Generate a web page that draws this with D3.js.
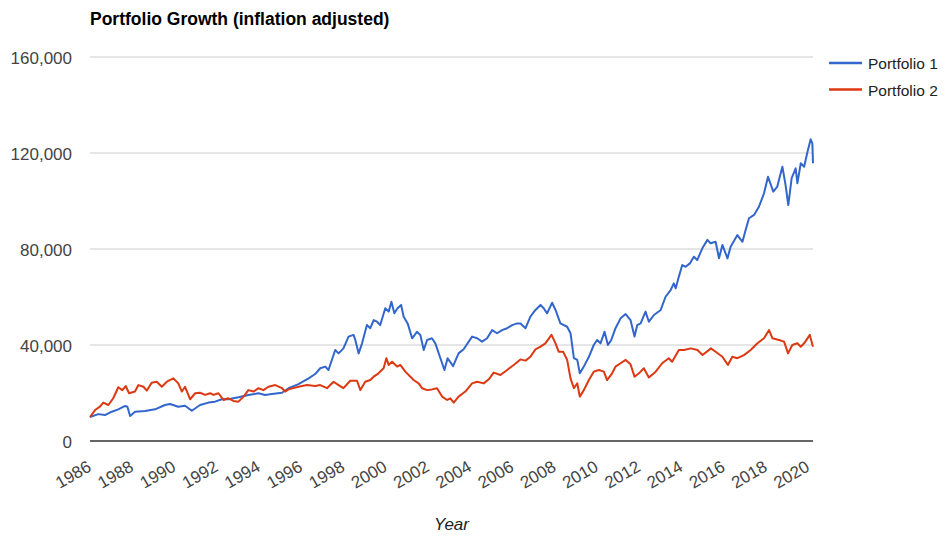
<!DOCTYPE html>
<html><head><meta charset="utf-8">
<script src="https://cdn.jsdelivr.net/npm/d3@7"></script>
<style>body{margin:0;background:#fff} svg{display:block;font-family:Arial,"Liberation Sans",sans-serif}</style>
</head><body><svg id="c" width="952" height="539"></svg>
<script>
const seriesNames = ["Portfolio 1", "Portfolio 2"];
const yTicks = [0, 40000, 80000, 120000, 160000];
const xTicks = [1986,1988,1990,1992,1994,1996,1998,2000,2002,2004,2006,2008,2010,2012,2014,2016,2018,2020];

const p1Years = [1986.00,1986.39,1986.71,1987.03,1987.34,1987.66,1987.77,1987.90,1988.13,1988.61,1989.08,1989.55,1989.79,1990.18,1990.50,1990.82,1991.21,1991.61,1991.92,1992.24,1992.55,1993.03,1993.50,1993.98,1994.29,1994.61,1995.09,1995.40,1995.87,1996.35,1996.66,1996.90,1997.14,1997.29,1997.61,1997.77,1998.00,1998.24,1998.48,1998.56,1998.72,1998.88,1999.11,1999.27,1999.43,1999.59,1999.74,1999.98,2000.14,2000.27,2000.41,2000.56,2000.73,2000.85,2001.04,2001.25,2001.48,2001.64,2001.80,2001.96,2002.19,2002.35,2002.59,2002.78,2002.93,2003.19,2003.45,2003.69,2004.09,2004.33,2004.56,2004.80,2005.04,2005.27,2005.51,2005.75,2005.99,2006.22,2006.38,2006.62,2006.85,2007.09,2007.33,2007.48,2007.64,2007.88,2008.04,2008.27,2008.59,2008.75,2008.91,2009.07,2009.19,2009.38,2009.62,2009.85,2010.01,2010.17,2010.36,2010.52,2010.68,2010.88,2011.12,2011.36,2011.59,2011.78,2011.91,2012.07,2012.30,2012.46,2012.70,2013.02,2013.25,2013.49,2013.64,2013.73,2013.88,2014.04,2014.20,2014.40,2014.59,2014.75,2014.99,2015.23,2015.38,2015.62,2015.78,2015.94,2016.18,2016.33,2016.65,2016.89,2017.04,2017.20,2017.44,2017.67,2017.91,2018.10,2018.35,2018.54,2018.78,2018.93,2019.06,2019.22,2019.41,2019.49,2019.65,2019.81,2019.97,2020.12,2020.20,2020.23];
const p1Values = [10000,11200,10800,12200,13200,14600,14300,10400,12200,12500,13200,15000,15400,14300,14700,12600,15000,16000,16400,17400,17400,18200,19200,19900,19200,19600,20100,22000,23700,26100,27900,30300,31000,29600,37900,36500,38600,43500,44200,42100,36500,40700,48300,47000,50400,49700,48300,55300,53900,58000,53200,55300,56700,51800,49000,42800,45500,44200,37900,42100,42800,40700,34500,29600,34500,31200,36500,38200,43500,42800,41400,42800,46200,44900,46200,47000,48300,49000,49000,47000,51800,54600,56700,55300,53200,57600,54600,49000,47600,44900,34500,33800,28200,31000,35100,40000,42100,40700,45500,40000,42100,47000,51100,52900,50400,43500,48300,49000,53900,49700,52500,54600,60100,62900,65700,63600,68500,73300,72600,74000,76800,75400,80300,83800,82400,83000,76100,81700,76100,80900,85800,83000,87900,92800,94200,97600,103200,110100,103900,106000,114300,106700,98300,109500,113600,107400,115700,114300,120500,125700,124000,115700];

const p2Years = [1986.00,1986.24,1986.47,1986.63,1986.87,1987.10,1987.34,1987.53,1987.69,1987.85,1988.13,1988.29,1988.53,1988.69,1988.92,1989.16,1989.40,1989.64,1989.95,1990.18,1990.35,1990.50,1990.74,1990.98,1991.21,1991.45,1991.69,1991.84,1992.08,1992.32,1992.55,1992.79,1993.03,1993.27,1993.50,1993.74,1993.98,1994.21,1994.45,1994.77,1995.09,1995.24,1995.40,1995.87,1996.27,1996.66,1996.90,1997.22,1997.53,1997.77,1998.00,1998.32,1998.64,1998.80,1999.03,1999.27,1999.43,1999.66,1999.90,2000.03,2000.14,2000.30,2000.54,2000.69,2000.93,2001.17,2001.32,2001.56,2001.72,2001.96,2002.19,2002.43,2002.67,2002.91,2003.06,2003.22,2003.45,2003.77,2004.09,2004.33,2004.64,2004.88,2005.11,2005.43,2005.75,2006.06,2006.38,2006.62,2006.85,2007.09,2007.33,2007.56,2007.85,2008.04,2008.19,2008.40,2008.59,2008.75,2008.91,2009.07,2009.19,2009.38,2009.62,2009.85,2010.09,2010.33,2010.48,2010.72,2010.88,2011.12,2011.36,2011.59,2011.78,2011.99,2012.22,2012.46,2012.78,2013.09,2013.40,2013.56,2013.88,2014.12,2014.45,2014.76,2015.00,2015.40,2015.62,2015.94,2016.20,2016.41,2016.65,2016.96,2017.28,2017.60,2017.91,2018.15,2018.31,2018.62,2018.86,2019.05,2019.25,2019.49,2019.65,2019.81,2020.08,2020.12,2020.23];
const p2Values = [10000,12900,14300,16000,15000,17800,22400,21200,22900,19900,20600,23300,22600,21000,24300,24700,22600,24700,26100,24000,20600,22600,17400,19900,20100,19200,19900,19200,19900,17100,17800,16700,16400,18500,21200,20600,22000,21200,22600,23300,22000,20600,21500,22600,23300,22900,23300,22000,24700,23300,22000,25100,25100,21200,24700,25400,26800,28200,30300,34500,31700,33000,31000,31700,28900,26800,25400,24000,22000,21200,21500,22000,18500,17100,17800,16000,18500,20600,24000,24700,24000,25700,28500,27500,29600,31700,34000,33500,35100,38200,39300,40700,44200,40700,37200,37200,33800,26100,22000,24000,18500,21200,25400,28900,29600,28900,25400,28200,31000,32400,33800,32000,26800,28200,30300,26500,28900,32400,34500,33000,37900,37900,38600,37900,35800,38600,37200,35100,31700,35100,34500,35800,37900,40700,42800,46200,42800,42100,41400,36500,40000,40700,39300,40700,44200,42800,39300];

const colors = ["#3366cc", "#dc3912"];
const svg = d3.select("#c");
const x = d3.scaleLinear().domain([1986, 2020.23]).range([90, 813]);
const y = d3.scaleLinear().domain([0, 160000]).range([441, 57]);
const fmt = d3.format(",");

// gridlines
svg.append("g").selectAll("line").data(yTicks.filter(d => d > 0)).join("line")
  .attr("x1", x.range()[0]).attr("x2", x.range()[1])
  .attr("y1", d => y(d)).attr("y2", d => y(d))
  .attr("stroke", "#cccccc").attr("stroke-width", 1);

// y axis labels
const yAxis = d3.axisLeft(y).tickValues(yTicks).tickSize(0).tickPadding(0).tickFormat(fmt);
const yg = svg.append("g").attr("transform", "translate(72,0)").call(yAxis);
yg.select(".domain").remove();
yg.selectAll("text").attr("font-size", 17).attr("fill", "#444").attr("font-family", "Arial, 'Liberation Sans', sans-serif").attr("dy", "0.36em");

// x axis labels
const xAxis = d3.axisBottom(x).tickValues(xTicks).tickSize(0).tickFormat(d3.format("d"));
const xg = svg.append("g").attr("transform", "translate(0,441)").call(xAxis);
xg.select(".domain").remove();
xg.selectAll(".tick text")
  .attr("font-size", 17).attr("fill", "#444").attr("font-family", "Arial, 'Liberation Sans', sans-serif")
  .attr("text-anchor", "end").attr("dy", 0).attr("y", 0)
  .attr("transform", "translate(2,29) rotate(-30)");

// lines
const line = d3.line().x(d => x(d[0])).y(d => y(d[1]));
const s1 = p1Years.map((t, i) => [t, p1Values[i]]);
const s2 = p2Years.map((t, i) => [t, p2Values[i]]);
[s1, s2].forEach((s, i) => {
  svg.append("path").datum(s).attr("d", line).attr("fill", "none")
    .attr("stroke", colors[i]).attr("stroke-width", 2).attr("stroke-linejoin", "round");
});

// baseline
svg.append("line").attr("x1", x.range()[0]).attr("x2", x.range()[1])
  .attr("y1", y(0)).attr("y2", y(0)).attr("stroke", "#333").attr("stroke-width", 1.5);

// title
svg.append("text").attr("x", 90).attr("y", 25).attr("font-size", 17.5).attr("font-weight", "bold")
  .attr("fill", "#000").text("Portfolio Growth (inflation adjusted)");

// axis title
svg.append("text").attr("x", (x.range()[0] + x.range()[1]) / 2).attr("y", 530)
  .attr("text-anchor", "middle").attr("font-size", 17).attr("font-style", "italic")
  .attr("fill", "#222").text("Year");

// legend
const lg = svg.append("g").selectAll("g").data(seriesNames).join("g")
  .attr("transform", (d, i) => `translate(829,${63 + i * 26.5})`);
lg.append("line").attr("x1", 0).attr("x2", 33).attr("y1", 0).attr("y2", 0)
  .attr("stroke", (d, i) => colors[i]).attr("stroke-width", 2.5);
lg.append("text").attr("x", 39).attr("y", 6).attr("font-size", 15.5).attr("fill", "#222").text(d => d);
</script></body></html>
